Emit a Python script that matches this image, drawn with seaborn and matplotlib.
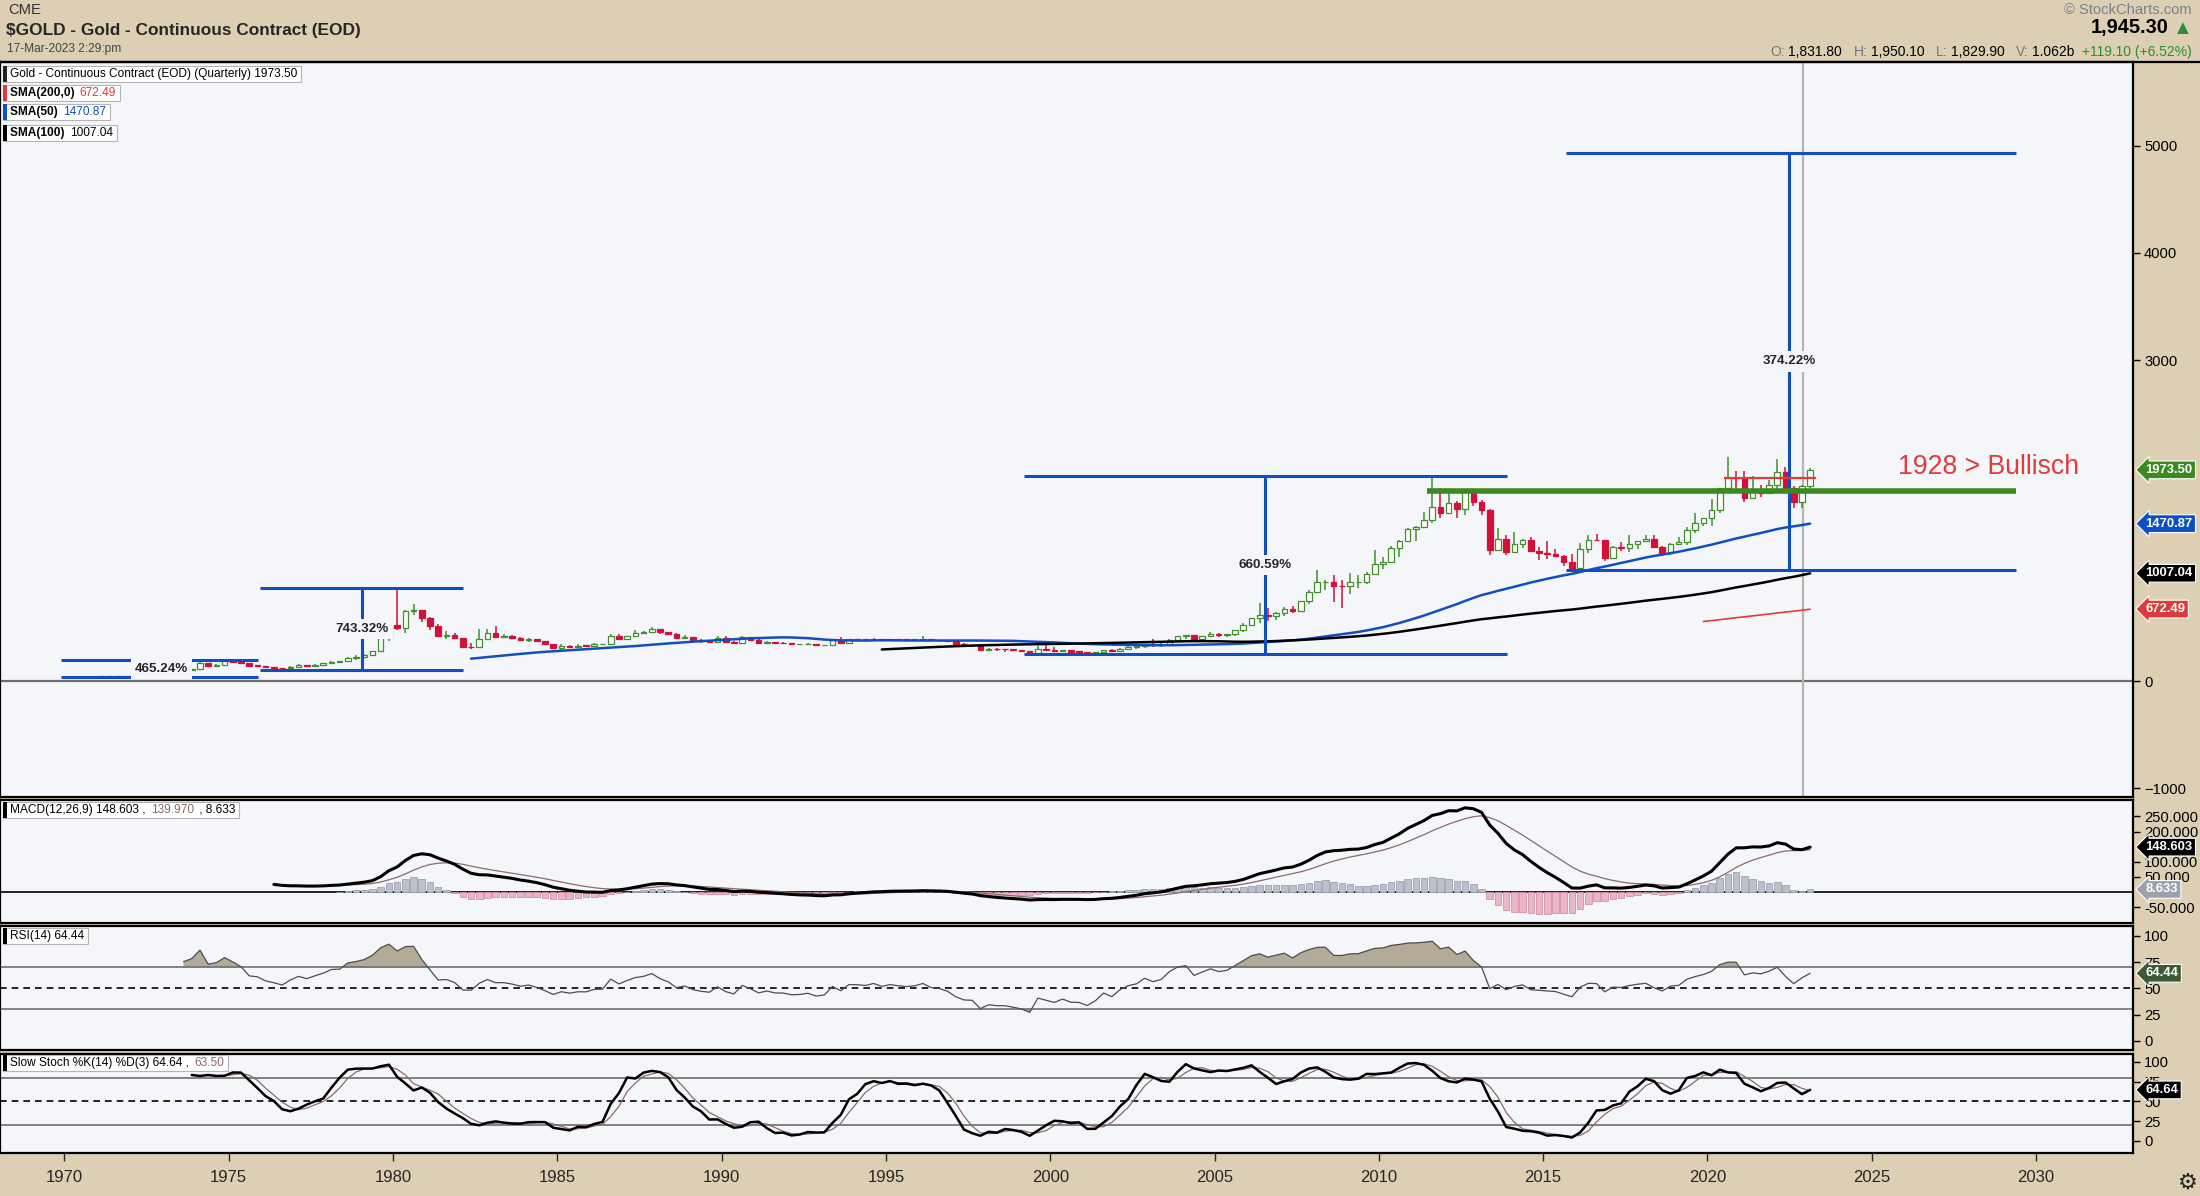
import numpy as np
import pandas as pd
import seaborn as sns
from matplotlib import pyplot as plt
from matplotlib import transforms as mtransforms
from matplotlib.lines import Line2D
from matplotlib.patches import Rectangle
from matplotlib.transforms import Bbox

sns.set_style("white")
plt.rcParams['font.family'] = ['Liberation Sans', 'DejaVu Sans']
NARROW = ['Liberation Sans', 'DejaVu Sans']

TAN = '#dccfb3'
PANEL = '#f5f6fa'
UP = '#3f8f2a'
DOWN = '#d3103a'
BLUE = '#0f4fc0'
RED = '#e23b3b'
GREEN_LINE = '#3b8a1f'
BROWN = '#8c6a6a'

# quarterly gold, continuous contract, 1970Q1 .. 2023Q1
first_year = 1970
closes = [
    35.3, 35.5, 36.2, 37.4,  38.9, 40.1, 42.0, 43.6,  48.4, 65.1, 65.3, 64.9,
    90.0, 123.3, 100.1, 112.3,  168.4, 143.0, 151.8, 186.5,  177.0, 166.3, 142.8, 140.3,
    128.8, 123.8, 117.3, 134.5,  148.9, 143.0, 154.1, 164.9,  181.6, 183.1, 217.1, 226.0,
    240.1, 277.5, 397.3, 524.0,  494.5, 653.5, 666.8, 589.8,  513.8, 422.0, 428.8, 400.0,
    320.0, 317.0, 397.0, 447.0,  414.8, 416.0, 402.5, 382.4,  394.3, 373.8, 344.3, 308.3,
    330.2, 317.0, 327.5, 327.0,  344.0, 345.5, 423.2, 390.9,  421.3, 448.1, 459.5, 486.5,
    456.9, 436.6, 397.7, 410.2,  385.2, 373.0, 366.5, 401.0,  368.5, 352.2, 408.4, 386.2,
    355.7, 367.5, 354.1, 353.2,  341.7, 343.4, 349.0, 332.9,  337.7, 378.8, 356.0, 390.1,
    389.2, 385.7, 396.1, 383.3,  392.0, 387.1, 384.0, 387.0,  396.4, 382.3, 379.0, 369.3,
    348.2, 334.6, 332.9, 290.2,  301.0, 296.3, 296.0, 288.4,  279.5, 261.3, 299.0, 288.7,
    278.4, 288.2, 273.6, 272.7,  258.1, 270.6, 293.1, 278.7,  302.0, 316.9, 324.0, 347.6,
    336.9, 346.0, 385.8, 416.1,  426.5, 394.7, 416.0, 438.4,  429.3, 437.1, 472.3, 518.9,
    585.0, 616.0, 603.8, 635.7,  669.0, 650.9, 748.7, 836.5,  921.5, 928.3, 884.5, 884.3,
    924.0, 927.0, 1003.5, 1096.2,  1113.3, 1244.3, 1307.8, 1421.1,  1439.0, 1502.3, 1624.3, 1566.8,
    1668.0, 1604.2, 1776.1, 1675.8,  1597.1, 1223.7, 1327.0, 1202.3,  1283.8, 1321.4, 1210.5, 1199.3,
    1183.1, 1171.2, 1114.5, 1060.3,  1235.4, 1321.6, 1316.5, 1151.7,  1251.2, 1241.9, 1283.1, 1309.3,
    1327.3, 1253.2, 1196.2, 1282.7,  1295.4, 1413.7, 1472.9, 1519.5,  1596.6, 1800.5, 1895.5, 1895.1,
    1713.8, 1771.6, 1757.0, 1828.6,  1949.2, 1807.3, 1672.0, 1826.2,  1973.5,
]
highs = [
    35.6, 35.8, 36.6, 37.6,  39.0, 41.0, 42.8, 44.0,  48.9, 66.5, 70.0, 66.2,
    92.0, 127.0, 126.0, 113.0,  179.5, 172.0, 158.0, 197.5,  186.0, 178.0, 168.0, 145.0,
    141.0, 130.0, 126.0, 138.0,  155.0, 150.0, 155.0, 166.0,  190.0, 187.0, 222.0, 245.0,
    251.0, 285.0, 412.0, 530.0,  875.0, 660.0, 720.0, 650.0,  600.0, 535.0, 463.0, 447.0,
    404.0, 355.0, 485.0, 488.0,  511.0, 440.0, 434.0, 410.0,  405.0, 394.0, 359.0, 350.0,
    345.0, 333.0, 344.0, 339.0,  352.0, 349.0, 443.0, 435.0,  425.0, 480.0, 465.0, 502.0,
    487.0, 461.0, 446.0, 431.0,  412.0, 391.0, 379.0, 418.0,  424.0, 375.0, 416.0, 410.0,
    404.0, 372.0, 369.0, 364.0,  357.0, 343.0, 352.0, 348.0,  340.0, 380.0, 411.0, 392.0,
    395.0, 395.0, 399.0, 396.0,  394.0, 396.0, 389.0, 393.0,  417.0, 396.0, 387.0, 382.0,
    368.0, 356.0, 336.0, 332.0,  305.0, 310.0, 301.0, 299.0,  293.0, 283.0, 326.0, 339.0,
    316.0, 293.0, 294.0, 277.0,  272.0, 274.0, 294.0, 295.0,  305.0, 331.0, 326.0, 349.0,
    388.0, 371.0, 392.0, 418.0,  431.0, 428.0, 417.0, 456.0,  446.0, 443.0, 478.0, 539.0,
    588.0, 732.0, 678.0, 649.0,  694.0, 699.0, 749.0, 848.0,  1033.0, 946.0, 988.0, 943.0,
    1007.0, 990.0, 1017.0, 1227.0,  1162.0, 1266.0, 1317.0, 1432.0,  1448.0, 1577.0, 1923.0, 1804.0,
    1791.0, 1680.0, 1790.0, 1798.0,  1696.0, 1605.0, 1434.0, 1362.0,  1392.0, 1331.0, 1345.0, 1255.0,
    1307.0, 1232.0, 1175.0, 1191.0,  1287.0, 1362.0, 1377.0, 1309.0,  1263.0, 1297.0, 1362.0, 1310.0,
    1366.0, 1365.0, 1266.0, 1289.0,  1349.0, 1442.0, 1567.0, 1526.0,  1704.0, 1800.0, 2089.0, 1966.0,
    1962.0, 1919.0, 1836.0, 1880.0,  2078.0, 1998.0, 1819.0, 1836.0,  1989.0,
]
lows = [
    34.8, 35.1, 35.3, 36.0,  37.3, 38.5, 40.0, 41.8,  43.0, 48.0, 63.0, 62.5,
    64.0, 88.0, 95.0, 90.0,  112.0, 129.0, 129.0, 150.0,  165.0, 161.0, 128.5, 136.0,
    125.0, 122.0, 103.5, 116.0,  131.0, 138.0, 139.5, 150.0,  166.0, 168.0, 183.0, 193.0,
    216.0, 232.0, 277.0, 371.0,  474.0, 453.0, 613.0, 555.0,  473.0, 422.0, 388.0, 391.0,
    315.0, 297.0, 333.0, 395.0,  409.0, 404.0, 400.0, 373.0,  366.0, 372.0, 333.0, 307.0,
    284.0, 313.0, 318.0, 320.0,  327.0, 334.0, 343.0, 380.0,  389.0, 420.0, 439.0, 459.0,
    442.0, 437.0, 396.0, 406.0,  380.0, 356.0, 355.0, 363.0,  367.0, 345.0, 352.0, 376.0,
    356.0, 354.0, 349.0, 351.0,  337.0, 333.0, 340.0, 330.0,  326.0, 337.0, 349.0, 350.0,
    375.0, 377.0, 378.0, 380.0,  372.0, 383.0, 381.0, 380.0,  387.0, 380.0, 378.0, 366.0,
    338.0, 334.0, 317.0, 286.0,  279.0, 285.0, 271.0, 285.0,  278.0, 258.0, 254.0, 280.0,
    274.0, 275.0, 271.0, 264.0,  256.0, 256.0, 264.0, 274.0,  277.0, 300.0, 302.0, 311.0,
    320.0, 318.0, 342.0, 370.0,  391.0, 372.0, 390.0, 414.0,  411.0, 414.0, 418.0, 456.0,
    513.0, 543.0, 560.0, 570.0,  606.0, 640.0, 648.0, 723.0,  848.0, 847.0, 736.0, 681.0,
    810.0, 866.0, 902.0, 1003.0,  1045.0, 1108.0, 1158.0, 1310.0,  1309.0, 1462.0, 1479.0, 1523.0,
    1563.0, 1527.0, 1556.0, 1636.0,  1554.0, 1180.0, 1211.0, 1182.0,  1201.0, 1240.0, 1206.0, 1131.0,
    1142.0, 1162.0, 1077.0, 1046.0,  1061.0, 1199.0, 1307.0, 1124.0,  1147.0, 1214.0, 1204.0, 1237.0,
    1303.0, 1246.0, 1167.0, 1180.0,  1282.0, 1267.0, 1381.0, 1447.0,  1451.0, 1568.0, 1764.0, 1765.0,
    1673.0, 1722.0, 1721.0, 1753.0,  1780.0, 1807.0, 1615.0, 1618.0,  1805.0,
]

year_ticks = list(range(1970, 2031, 5))

# measured moves: start, end, marker x, low, high, label
measure_x0 = [1969.9, 1975.94, 1999.2, 2015.69]
measure_x1 = [1975.9, 1982.13, 2013.9, 2029.39]
measure_xv = [1972.95, 1979.05, 2006.55, 2022.48]
measure_lo = [35.0, 102.7, 252.0, 1040.0]
measure_hi = [198.0, 866.0, 1916.0, 4932.0]
measure_labels = ['465.24%', '743.32%', '660.59%', '374.22%']

support_level = 1772
trigger_level = 1895

# ---- frame and indicators ----
frame = pd.DataFrame({'close': closes, 'high': highs, 'low': lows})
idx = np.arange(len(frame))
frame['t'] = first_year + idx * 0.25 + 0.125
frame['open'] = frame['close'].shift(1).fillna(frame['close'])
frame['high'] = frame[['high', 'open', 'close']].max(axis=1)
frame['low'] = frame[['low', 'open', 'close']].min(axis=1)

c = frame['close']
frame['sma50'] = c.rolling(50).mean()
frame['sma100'] = c.rolling(100).mean()
frame['sma200'] = c.rolling(200).mean()

ema12 = c.ewm(span=12, adjust=False).mean()
ema26 = c.ewm(span=26, adjust=False).mean()
macd = ema12 - ema26
signal = macd.ewm(span=9, adjust=False).mean()
frame['macd'] = macd.where(idx >= 25)
frame['signal'] = signal.where(idx >= 33)
frame['hist'] = (macd - signal).where(idx >= 33)

delta = c.diff()
gain = delta.clip(lower=0).ewm(alpha=1 / 14, adjust=False).mean()
loss = (-delta.clip(upper=0)).ewm(alpha=1 / 14, adjust=False).mean()
frame['rsi'] = (100 - 100 / (1 + gain / loss)).where(idx >= 14)

ll = frame['low'].rolling(14).min()
hh = frame['high'].rolling(14).max()
fast_k = 100 * (c - ll) / (hh - ll)
frame['k'] = fast_k.rolling(3).mean()
frame['d'] = frame['k'].rolling(3).mean()

# ---- figure ----
W, H = 2200, 1196
fig = plt.figure(figsize=(11, 5.98), dpi=200, facecolor=TAN)
ident = mtransforms.IdentityTransform()


def panel(top, bottom, sharex=None):
    a = fig.add_axes([0, 1 - bottom / H, 2133 / W, (bottom - top) / H], sharex=sharex)
    a.set_facecolor(PANEL)
    for s in a.spines.values():
        s.set_color('black')
        s.set_linewidth(0.8)
    a.yaxis.tick_right()
    a.tick_params(axis='y', direction='out', length=2.5, width=0.5, pad=1.5,
                  labelsize=5.3, colors='black', right=True, left=False)
    return a


ax = panel(62, 797)
ax_macd = panel(800, 923, sharex=ax)
ax_rsi = panel(926, 1050, sharex=ax)
ax_sto = panel(1054, 1153, sharex=ax)

# candles
t = frame['t'].values
o = frame['open'].values
cl = frame['close'].values
green = cl >= o
ax.vlines(t, frame['low'], frame['high'], colors=np.where(green, UP, DOWN), lw=0.55, zorder=2)
ax.bar(t, np.maximum(np.abs(cl - o), 5), bottom=np.minimum(o, cl), width=0.17,
       color=np.where(green, 'white', DOWN), edgecolor=np.where(green, UP, DOWN),
       linewidth=0.45, zorder=3)

sns.lineplot(data=frame, x='t', y='sma50', color=BLUE, lw=0.9, ax=ax, zorder=4)
sns.lineplot(data=frame, x='t', y='sma100', color='black', lw=0.9, ax=ax, zorder=4)
sns.lineplot(data=frame, x='t', y='sma200', color=RED, lw=0.6, ax=ax, zorder=4)

ax.axhline(0, color='#6e6e6e', lw=0.8, zorder=1)
ax.axvline(2022.92, color='#bdb2ad', lw=0.8, zorder=1)

for x0, x1, xv, lo, hi, label in zip(measure_x0, measure_x1, measure_xv,
                                     measure_lo, measure_hi, measure_labels):
    ax.hlines([lo, hi], x0, x1, color=BLUE, lw=1.1, zorder=5)
    ax.vlines(xv, lo, hi, color=BLUE, lw=1.1, zorder=5)
    ax.text(xv, (lo + hi) / 2, label, ha='center', va='center', fontsize=4.8,
            fontweight='bold', family=NARROW, zorder=6,
            bbox=dict(fc=PANEL, ec='none', pad=1.5))

ax.hlines(support_level, 2011.46, 2029.4, color=GREEN_LINE, lw=2.0, zorder=5)
ax.hlines(trigger_level, 2020.5, 2023.3, color=RED, lw=0.8, zorder=5)
ax.text(2025.8, 2000, '1928 > Bullisch', color=RED, fontsize=9.6, ha='left', va='center')

ax.set_xlim(1968.04, 2032.95)
ax.set_ylim(-1084, 5785)
ax.set_yticks([-1000, 0, 3000, 4000, 5000])

# MACD
valid = frame.dropna(subset=['hist'])
ax_macd.bar(valid['t'], valid['hist'], width=0.2,
            color=np.where(valid['hist'] > 0, '#bcc0cc', '#eab6c6'),
            edgecolor=np.where(valid['hist'] > 0, '#9ea3b4', '#d590a8'), linewidth=0.3, zorder=2)
ax_macd.axhline(0, color='black', lw=0.6, zorder=1)
sns.lineplot(data=frame, x='t', y='signal', color=BROWN, lw=0.45, ax=ax_macd, zorder=3)
sns.lineplot(data=frame, x='t', y='macd', color='black', lw=1.1, ax=ax_macd, zorder=4)
ax_macd.set_ylim(-102.6, 304.6)
ax_macd.set_yticks([250, 200, 100, 50, -50])
ax_macd.set_yticklabels([f'{v:.3f}' for v in [250, 200, 100, 50, -50]])

# RSI
r = frame['rsi']
ax_rsi.fill_between(t, 70, r, where=r > 70, interpolate=True, color='#b3aa97', lw=0, zorder=1)
ax_rsi.fill_between(t, 30, r, where=r < 30, interpolate=True, color='#b3aa97', lw=0, zorder=1)
sns.lineplot(data=frame, x='t', y='rsi', color='#4d4d4d', lw=0.45, ax=ax_rsi, zorder=3)
for lvl in (70, 30):
    ax_rsi.axhline(lvl, color='#6e6e6e', lw=0.6, zorder=2)
ax_rsi.axhline(50, color='black', lw=0.6, ls=(0, (4, 3)), zorder=2)
ax_rsi.set_ylim(-8.6, 109.5)
ax_rsi.set_yticks([100, 75, 50, 25, 0])

# Slow stochastic
for lvl in (80, 20):
    ax_sto.axhline(lvl, color='#6e6e6e', lw=0.6, zorder=1)
ax_sto.axhline(50, color='black', lw=0.6, ls=(0, (4, 3)), zorder=1)
sns.lineplot(data=frame, x='t', y='d', color=BROWN, lw=0.45, ax=ax_sto, zorder=3)
sns.lineplot(data=frame, x='t', y='k', color='black', lw=0.9, ax=ax_sto, zorder=4)
ax_sto.set_ylim(-15.2, 110.1)
ax_sto.set_yticks([100, 75, 50, 25, 0])

for a in (ax, ax_macd, ax_rsi, ax_sto):
    a.set_xlabel('')
    a.set_ylabel('')
for a in (ax, ax_macd, ax_rsi):
    a.tick_params(axis='x', bottom=False, labelbottom=False)
ax_sto.set_xticks(year_ticks)
ax_sto.set_xticklabels([str(y) for y in year_ticks], family=NARROW, fontsize=6)
ax_sto.tick_params(axis='x', direction='out', length=3, width=0.5, pad=3, bottom=True)
ax_sto.set_xlim(1968.04, 2032.95)


# value tags on the right edge
def price_tag(a, value, text, color, fg='white'):
    a.annotate(text, xy=(1.0, value), xycoords=('axes fraction', 'data'),
               xytext=(4.5, 0), textcoords='offset points', ha='left', va='center',
               fontsize=4.7, fontweight='bold', color=fg, annotation_clip=False, zorder=10,
               bbox=dict(boxstyle='larrow,pad=0.22', fc=color, ec='white', lw=0.4))


price_tag(ax, 1973.5, '1973.50', '#3b8a1f')
price_tag(ax, 1470.87, '1470.87', '#0b4fc2')
price_tag(ax, 1007.04, '1007.04', 'black')
price_tag(ax, 672.49, '672.49', '#db3b3b')
price_tag(ax_macd, 148.603, '148.603', 'black')
price_tag(ax_macd, 8.633, '8.633', '#9ea0ad')
price_tag(ax_rsi, 64.44, '64.44', '#3d5a35')
price_tag(ax_sto, 64.64, '64.64', 'black')


# header and legend texts
def text_run(x, y, parts, size, family=NARROW, align='left', zorder=7):
    rend = fig.canvas.get_renderer()
    arts = []
    widths = []
    for s, col, wt, gap in parts:
        a = fig.text(0, H - y, s, color=col, fontsize=size, fontweight=wt, family=family,
                     va='center', ha='left', transform=ident, zorder=zorder)
        arts.append(a)
        widths.append(a.get_window_extent(rend).width + gap)
    start = x - sum(widths) if align == 'right' else x
    for a, w in zip(arts, widths):
        a.set_x(start)
        start += w
    return arts


def legend_box(x, y, parts, bar_color, size=4.3):
    arts = text_run(x + 7, y, parts, size)
    rend = fig.canvas.get_renderer()
    bb = Bbox.union([a.get_window_extent(rend) for a in arts])
    fig.add_artist(Rectangle((x, H - y - 8), bb.x1 + 4 - x, 16, transform=ident,
                             fc='white', ec='#b5b5b5', lw=0.4, zorder=5))
    fig.add_artist(Rectangle((x, H - y - 8), 3.5, 16, transform=ident,
                             fc=bar_color, ec='none', zorder=6))


fig.text(8, H - 10, 'CME', transform=ident, fontsize=5.3, color='#333333', va='center')
fig.text(6, H - 30, '$GOLD - Gold - Continuous Contract (EOD)', transform=ident,
         fontsize=6.2, fontweight='bold', family=NARROW, va='center')
fig.text(7, H - 49, '17-Mar-2023 2:29:pm', transform=ident, fontsize=4.3,
         color='#444444', va='center', family=NARROW)
fig.text(2192, H - 10, '\u00a9 StockCharts.com', transform=ident, fontsize=5.3,
         color='#7a808c', va='center', ha='right', family=NARROW)
text_run(2193, 28, [('1,945.30', 'black', 'bold', 5), ('\u25b2', '#2e8b3a', 'normal', 0)],
         7.2, align='right')
grey = '#777777'
text_run(2192, 52, [('O:', grey, 'normal', 3), ('1,831.80', 'black', 'normal', 12),
                    ('H:', grey, 'normal', 3), ('1,950.10', 'black', 'normal', 12),
                    ('L:', grey, 'normal', 3), ('1,829.90', 'black', 'normal', 12),
                    ('V:', grey, 'normal', 3), ('1.062b', 'black', 'normal', 8),
                    ('+119.10 (+6.52%)', '#2e8b3a', 'normal', 0)], 5.0, align='right')
fig.add_artist(Line2D([0, 1], [1 - 62 / H] * 2, color='black', lw=0.8))

legend_box(3, 74, [('Gold - Continuous Contract (EOD) (Quarterly) 1973.50', 'black', 'normal', 0)],
           '#222222')
legend_box(3, 93, [('SMA(200,0) ', 'black', 'bold', 2), ('672.49', '#db3b3b', 'normal', 0)], '#db3b3b')
legend_box(3, 112, [('SMA(50) ', 'black', 'bold', 2), ('1470.87', '#0b4fc2', 'normal', 0)], '#0b4fc2')
legend_box(3, 133, [('SMA(100) ', 'black', 'bold', 2), ('1007.04', 'black', 'normal', 0)], 'black')
legend_box(3, 810, [('MACD(12,26,9) 148.603 , ', 'black', 'normal', 2), ('139.970', BROWN, 'normal', 2),
                    (' , 8.633', 'black', 'normal', 0)], 'black')
legend_box(3, 936, [('RSI(14) 64.44', 'black', 'normal', 0)], 'black')
legend_box(3, 1063, [('Slow Stoch %K(14) %D(3) 64.64 , ', 'black', 'normal', 2),
                     ('63.50', BROWN, 'normal', 0)], 'black')

fig.text(2188, H - 1183, '\u2699', transform=ident, fontsize=8, color='#222222',
         ha='center', va='center', family=['DejaVu Sans'])

plt.savefig('out.png', dpi=200, facecolor=TAN)
